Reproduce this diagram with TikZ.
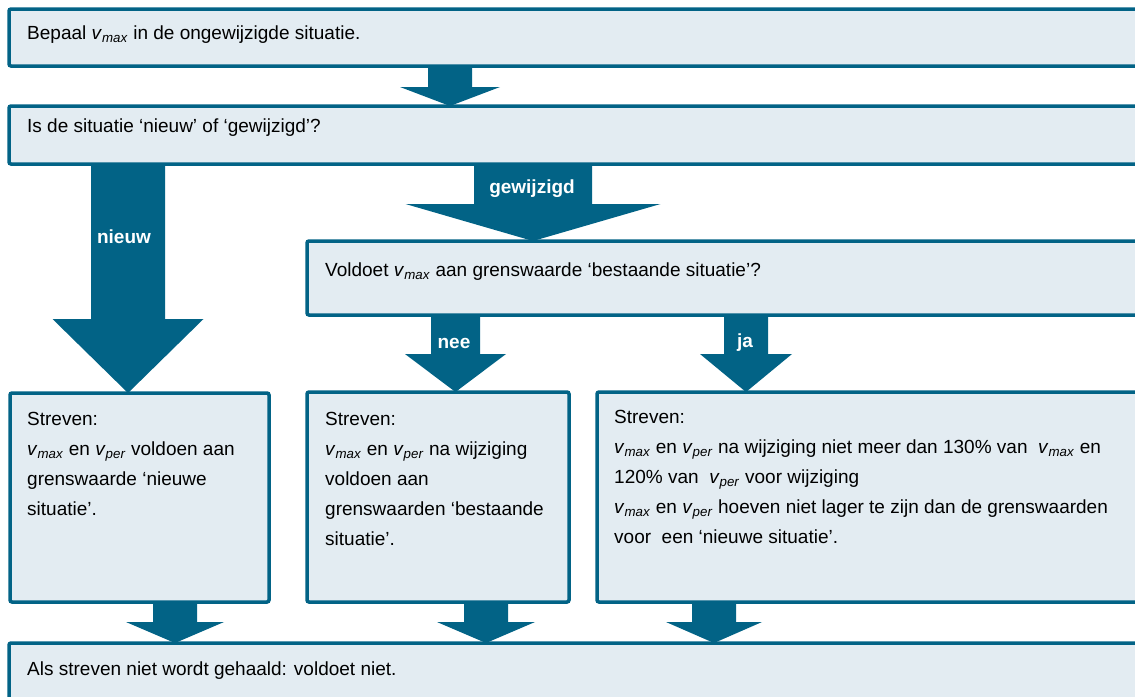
\documentclass[tikz,border=0pt]{standalone}
\usepackage{fontspec}
\setmainfont{Liberation Sans}
\usetikzlibrary{calc}

\definecolor{rwsblauw}{RGB}{2,99,134}
\definecolor{rwslicht}{RGB}{227,236,242}

\newcommand{\vmax}{\textit{v}\textsubscript{\textit{max}}}
\newcommand{\vper}{\textit{v}\textsubscript{\textit{per}}}

% blokpijl: van, naar, as, halve schacht, halve kop, koplengte
\newcommand{\blokpijl}[6]{%
  \fill[rwsblauw] let \p1=(#1.south), \p2=(#2.north) in
    (#3pt-#4pt,\y1) -- (#3pt+#4pt,\y1) -- (#3pt+#4pt,\y2+#6pt)
    -- (#3pt+#5pt,\y2+#6pt) -- (#3pt,\y2) -- (#3pt-#5pt,\y2+#6pt)
    -- (#3pt-#4pt,\y2+#6pt) -- cycle;}

\tikzset{
  kader/.style={draw=rwsblauw, fill=rwslicht, line width=3.5pt,
    rounded corners=2pt, outer sep=0pt, inner sep=0pt, anchor=north west},
  tekst/.style={anchor=north west, inner sep=0pt, align=left,
    font=\fontsize{19}{30}\selectfont},
  pijltekst/.style={text=white, font=\fontsize{19}{22}\selectfont\bfseries, inner sep=0pt}
}

\begin{document}
\begin{tikzpicture}[x=1pt,y=-1pt]
  \useasboundingbox (0,0) rectangle (1135,696);
  \clip (0,0) rectangle (1135,696);

  % kaders
  \node[kader, minimum width=1150, minimum height=57] (bepaal) at (9,9) {};
  \node[kader, minimum width=1150, minimum height=58] (vraag) at (9,106) {};
  \node[kader, minimum width=850, minimum height=74] (voldoet) at (307,241) {};
  \node[kader, minimum width=259, minimum height=209] (nieuw) at (10,393) {};
  \node[kader, minimum width=262, minimum height=210] (bestaand) at (307,392) {};
  \node[kader, minimum width=600, minimum height=210] (gewijzigd) at (597,392) {};
  \node[kader, minimum width=1150, minimum height=80] (eind) at (9,643) {};

  % pijlen
  \blokpijl{bepaal}{vraag}{450}{22}{50}{19}
  \blokpijl{vraag}{nieuw}{128}{37}{75.5}{74}
  \blokpijl{vraag}{voldoet}{533}{59}{127.5}{37}
  \blokpijl{voldoet}{bestaand}{455.5}{24.5}{50.5}{38}
  \blokpijl{voldoet}{gewijzigd}{746}{22}{46}{38}
  \blokpijl{nieuw}{eind}{175}{22}{49}{21}
  \blokpijl{bestaand}{eind}{486}{22}{49}{21}
  \blokpijl{gewijzigd}{eind}{714}{22}{48}{21}

  \node[pijltekst] (lnieuw) at (124,237) {nieuw};
  \node[pijltekst] (lgewijzigd) at (532,189) {gewijzigd};
  \node[pijltekst] (lnee) at (454,343) {nee};
  \node[pijltekst] (lja) at (745,343) {ja};

  % teksten
  \node[tekst] (tbepaal) at (27,26) {Bepaal \vmax{} in de ongewijzigde situatie.};
  \node[tekst] (tvraag) at (27,119) {Is de situatie ‘nieuw’ of ‘gewijzigd’?};
  \node[tekst] (tvoldoet) at (325,263) {Voldoet \vmax{} aan grenswaarde ‘bestaande situatie’?};
  \node[tekst] (tnieuw) at (27,412) {Streven:\\ \vmax{} en \vper{} voldoen aan\\
    grenswaarde ‘nieuwe\\ situatie’.};
  \node[tekst] (tbestaand) at (325,412) {Streven:\\ \vmax{} en \vper{} na wijziging\\
    voldoen aan\\ grenswaarden ‘bestaande\\ situatie’.};
  \node[tekst] (tgewijzigd) at (614,410) {Streven:\\
    \vmax{} en \vper{} na wijziging niet meer dan 130\% van~ \vmax{} en\\
    120\% van~ \vper{} voor wijziging\\
    \vmax{} en \vper{} hoeven niet lager te zijn dan de grenswaarden\\
    voor~ een ‘nieuwe situatie’.};
  \node[tekst] (teind) at (27,662) {Als streven niet wordt gehaald: voldoet niet.};
\end{tikzpicture}
\end{document}
